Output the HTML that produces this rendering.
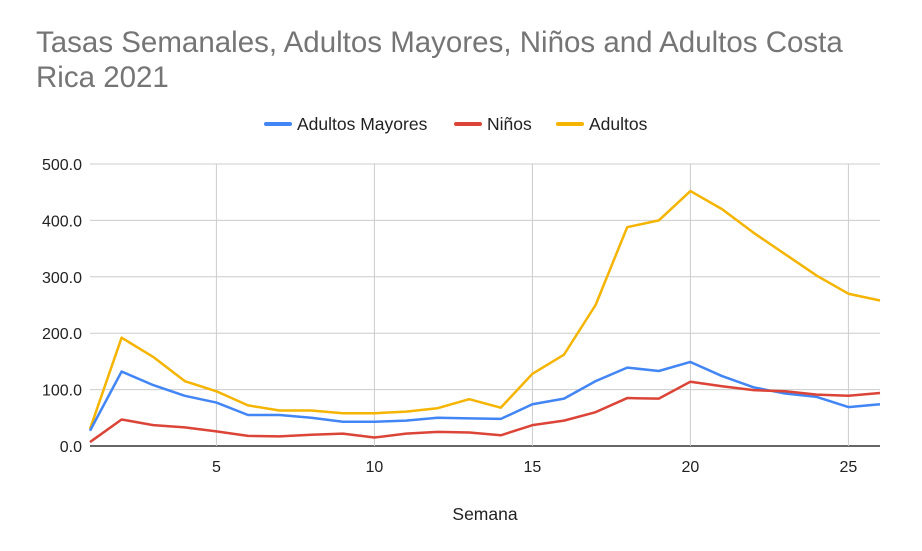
<!DOCTYPE html>
<html><head><meta charset="utf-8"><style>
body{margin:0;background:#fff;font-family:"Liberation Sans",sans-serif;}
svg text{font-family:"Liberation Sans",sans-serif;}
</style></head><body>
<svg width="922" height="546">
<text x="36" y="52" font-size="29.5" fill="#757575">Tasas Semanales, Adultos Mayores, Niños and Adultos Costa</text>
<text x="36" y="87" font-size="29.5" fill="#757575">Rica 2021</text>
<g>
<g><line x1="266" y1="124" x2="290" y2="124" stroke="#4285f4" stroke-width="4" stroke-linecap="round"/><text x="297" y="130" font-size="17.5" fill="#222">Adultos Mayores</text></g>
<g><line x1="456" y1="124" x2="480" y2="124" stroke="#db4437" stroke-width="4" stroke-linecap="round"/><text x="487" y="130" font-size="17.5" fill="#222">Niños</text></g>
<g><line x1="558" y1="124" x2="582" y2="124" stroke="#f4b400" stroke-width="4" stroke-linecap="round"/><text x="589" y="130" font-size="17.5" fill="#222">Adultos</text></g>
</g>
<g id="grid"></g><g id="series"></g>
<text x="485" y="520" font-size="17.5" fill="#222" text-anchor="middle">Semana</text>
</svg>
<script>
const weeks=[1,2,3,4,5,6,7,8,9,10,11,12,13,14,15,16,17,18,19,20,21,22,23,24,25,26];
const adultosMayores=[27,132,108,89,77,55,55,50,43,43,45,50,49,48,74,84,115,139,133,149,124,104,93,87,69,74];
const ninos=[7,47,37,33,26,18,17,20,22,15,22,25,24,19,37,45,60,85,84,114,106,99,97,91,89,94];
const adultos=[30,192,158,115,97,72,63,63,58,58,61,67,83,68,128,162,250,388,400,452,420,378,340,302,270,258];
const yTicks=[0,100,200,300,400,500];
const xTicks=[5,10,15,20,25];
const L=90,R=880,T=164,B=446;
const xs=w=>L+(w-1)*(R-L)/25;
const ys=v=>B-v*(B-T)/500;
const NS='http://www.w3.org/2000/svg';
const g=document.getElementById('grid'),s=document.getElementById('series');
function mk(tag,a,p){const e=document.createElementNS(NS,tag);for(const k in a)e.setAttribute(k,a[k]);p.appendChild(e);return e;}
yTicks.forEach(v=>{
 const l=mk('line',{x1:L,x2:R,y1:ys(v),y2:ys(v),stroke:v===0?'#333':'#ccc','stroke-width':v===0?1.5:1},g);
 
 
 const t=mk('text',{x:82,y:ys(v)+6,'font-size':16,fill:'#222','text-anchor':'end'},g);t.textContent=v.toFixed(1);
 
 
});
xTicks.forEach(w=>{
 const l=mk('line',{x1:xs(w),x2:xs(w),y1:T,y2:B,stroke:'#ccc','stroke-width':1},g);
 
 
 const t=mk('text',{x:xs(w),y:472,'font-size':16,fill:'#222','text-anchor':'middle'},g);t.textContent=w;
 
 
});
[[adultos,'#f4b400','line-adultos'],[adultosMayores,'#4285f4','line-adultos-mayores'],[ninos,'#db4437','line-ninos']].forEach(([d,c,n])=>{
 const p=mk('polyline',{points:d.map((v,i)=>xs(weeks[i])+','+ys(v)).join(' '),fill:'none',stroke:c,'stroke-width':2.5,'stroke-linejoin':'round'},s);
 
 
});
</script>
</body></html>
